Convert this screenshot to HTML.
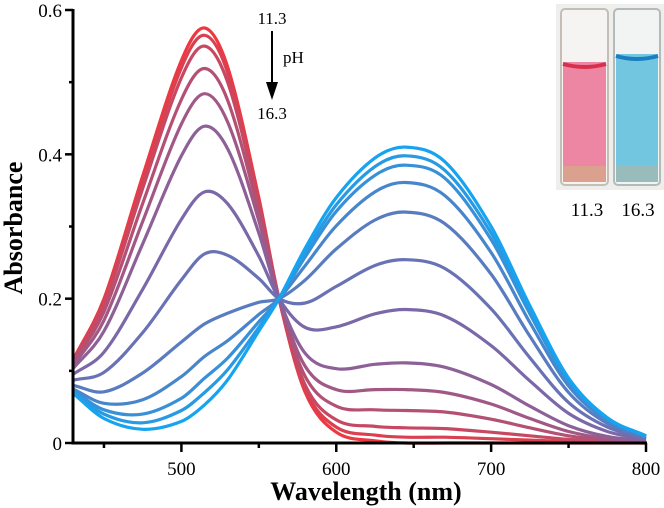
<!DOCTYPE html>
<html><head><meta charset="utf-8"><style>
html,body{margin:0;padding:0;background:#fff}
svg{display:block}
svg text{font-family:"Liberation Serif","Times New Roman",serif;fill:#000}
</style></head><body>
<svg id="chart" width="664" height="508" viewBox="0 0 664 508" font-family="Liberation Serif, serif">
<g id="inset">
 <rect x="556" y="4" width="108" height="186" fill="#eeeeec"/>
 <rect x="561" y="9" width="47" height="176" rx="4" fill="#f6f4f2" stroke="#c4beb6" stroke-width="2"/>
 <rect x="563" y="62" width="43" height="120" fill="#ec86a2"/>
 <path d="M563 64 Q585 70 606 64" stroke="#d8304c" stroke-width="4" fill="none"/>
 <rect x="563" y="166" width="43" height="16" fill="#dca08e"/>
 <rect x="614" y="9" width="46" height="176" rx="4" fill="#f2f3f3" stroke="#b4baba" stroke-width="2"/>
 <rect x="616" y="54" width="42" height="128" fill="#72c6df"/>
 <path d="M616 56 Q637 62 658 56" stroke="#1a7fc0" stroke-width="4" fill="none"/>
 <rect x="616" y="166" width="42" height="16" fill="#98bcbc"/>
 <text x="587" y="216" font-size="19" text-anchor="middle" font-family="Liberation Serif, serif">11.3</text>
 <text x="638" y="216" font-size="19" text-anchor="middle" font-family="Liberation Serif, serif">16.3</text>
</g>
<g id="curves"></g>
<g id="axes"></g>
<g font-family="Liberation Serif, serif">
 <text x="272" y="24" font-size="17" text-anchor="middle">11.3</text>
 <line x1="272" y1="31" x2="272" y2="86" stroke="#000" stroke-width="2"/>
 <polygon points="266,82 278,82 272,100" fill="#000"/>
 <text x="283" y="63" font-size="17">pH</text>
 <text x="272" y="119" font-size="17" text-anchor="middle">16.3</text>
</g>
</svg>
<script>
const wavelengths=[430,450,475,500,515,530,550,563,580,600,625,645,670,700,725,750,775,800];
const phLabels=["11.3","c2","c3","c4","c5","c6","c7","c8","c9","c10","c11","c12","16.3"];
const s1=[.115,.20,.37,.53,.575,.52,.34,.20,.07,.015,.003,0,0,0,0,0,0,0];
const s2=[.114,.197,.363,.520,.565,.512,.336,.20,.074,.022,.011,.008,.008,.006,.004,.002,.001,0];
const s3=[.113,.192,.353,.506,.550,.499,.331,.20,.080,.032,.023,.021,.020,.015,.010,.005,.002,.001];
const s4=[.110,.182,.332,.476,.519,.474,.320,.20,.092,.051,.046,.045,.043,.033,.021,.010,.004,.001];
const s5=[.107,.170,.307,.442,.484,.444,.308,.20,.106,.074,.074,.074,.070,.054,.034,.016,.006,.002];
const s6=[.103,.155,.276,.398,.439,.407,.291,.20,.124,.103,.109,.111,.105,.081,.051,.024,.009,.003];
const s7=[.095,.126,.213,.310,.348,.331,.259,.20,.160,.161,.179,.185,.176,.135,.086,.041,.016,.005];
const s8=[.087,.098,.153,.226,.262,.260,.228,.20,.194,.217,.246,.254,.242,.186,.118,.056,.022,.006];
const s9=[.080,.071,.097,.140,.165,.180,.195,.20,.226,.269,.309,.320,.304,.234,.148,.070,.027,.008];
const s10=[.075,.055,.060,.092,.120,.142,.178,.20,.246,.301,.348,.361,.343,.264,.167,.079,.031,.009];
const s11=[.073,.046,.040,.062,.090,.118,.168,.20,.258,.321,.371,.385,.367,.282,.179,.085,.033,.009];
const s12=[.071,.040,.028,.045,.070,.102,.160,.20,.264,.330,.383,.398,.378,.291,.184,.087,.034,.010];
const s13=[.069,.034,.019,.030,.053,.088,.155,.20,.270,.340,.395,.410,.390,.300,.190,.090,.035,.010];
const series=[s1,s2,s3,s4,s5,s6,s7,s8,s9,s10,s11,s12,s13];
const xTicks=[500,600,700,800];
const xMinor=[450,550,650,750];
const yTicks=[0,0.2,0.4,0.6];
const yTickLabels=["0","0.2","0.4","0.6"];
const yMinor=[0.1,0.3,0.5];

const X0=73,X1=646,Y0=443,Y1=10;
const xs=v=>X0+(v-430)/(800-430)*(X1-X0);
const ys=v=>Y0-(v/0.6)*(Y0-Y1);
const NS="http://www.w3.org/2000/svg";
function mk(tag,attrs,parent){const e=document.createElementNS(NS,tag);for(const k in attrs)e.setAttribute(k,attrs[k]);parent.appendChild(e);return e;}
function lerp(a,b,t){return Math.round(a+(b-a)*t);}
function color(t){
  const c0=[238,56,64],c1=[122,104,168],c2=[22,164,240];
  let a,b,u; if(t<0.5){a=c0;b=c1;u=t/0.5;}else{a=c1;b=c2;u=(t-0.5)/0.5;}
  return `rgb(${lerp(a[0],b[0],u)},${lerp(a[1],b[1],u)},${lerp(a[2],b[2],u)})`;
}
function hermitePath(pts){
  const n=pts.length,m=[];
  for(let i=0;i<n;i++){
    if(i===0)m.push((pts[1][1]-pts[0][1])/(pts[1][0]-pts[0][0]));
    else if(i===n-1)m.push((pts[n-1][1]-pts[n-2][1])/(pts[n-1][0]-pts[n-2][0]));
    else m.push((pts[i+1][1]-pts[i-1][1])/(pts[i+1][0]-pts[i-1][0]));
  }
  let d=`M${pts[0][0].toFixed(1)},${pts[0][1].toFixed(1)}`;
  for(let i=0;i<n-1;i++){
    const dx=(pts[i+1][0]-pts[i][0])/3;
    d+=` C${(pts[i][0]+dx).toFixed(1)},${(pts[i][1]+m[i]*dx).toFixed(1)} ${(pts[i+1][0]-dx).toFixed(1)},${(pts[i+1][1]-m[i+1]*dx).toFixed(1)} ${pts[i+1][0].toFixed(1)},${pts[i+1][1].toFixed(1)}`;
  }
  return d;
}
const cg=document.getElementById('curves');
series.forEach((s,i)=>{
  const pts=wavelengths.map((w,j)=>[xs(w),ys(s[j])]);
  const p=mk('path',{d:hermitePath(pts),fill:'none',stroke:color(i/(series.length-1)),'stroke-width':3.2,'stroke-linejoin':'round'},cg);
  
  
});
const ag=document.getElementById('axes');
const yAxis=mk('line',{x1:X0,y1:Y1-1,x2:X0,y2:Y0+1.5,stroke:'#000','stroke-width':3},ag);


const xAxis=mk('line',{x1:X0-1.5,y1:Y0,x2:X1+1,y2:Y0,stroke:'#000','stroke-width':3},ag);


xTicks.forEach(v=>{
  mk('line',{x1:xs(v),y1:Y0,x2:xs(v),y2:Y0+9,stroke:'#000','stroke-width':2.5},ag);
  const t=mk('text',{x:xs(v),y:Y0+32,'font-size':19,'text-anchor':'middle','font-family':'Liberation Serif, serif'},ag);
  t.textContent=v;
  
  
});
xMinor.forEach(v=>mk('line',{x1:xs(v),y1:Y0,x2:xs(v),y2:Y0+5,stroke:'#000','stroke-width':2.5},ag));
yTicks.forEach((v,i)=>{
  mk('line',{x1:X0-8,y1:ys(v),x2:X0,y2:ys(v),stroke:'#000','stroke-width':2.5},ag);
  const t=mk('text',{x:X0-11,y:ys(v)+7,'font-size':19,'text-anchor':'end','font-family':'Liberation Serif, serif'},ag);
  t.textContent=yTickLabels[i];
  
  
});
yMinor.forEach(v=>mk('line',{x1:X0-4,y1:ys(v),x2:X0,y2:ys(v),stroke:'#000','stroke-width':2.5},ag));
const xt=mk('text',{x:366,y:500,'font-size':26,'font-weight':'bold','text-anchor':'middle','font-family':'Liberation Serif, serif'},ag);
xt.textContent='Wavelength (nm)';


const yt=mk('text',{x:0,y:0,'font-size':26,'font-weight':'bold','text-anchor':'middle','font-family':'Liberation Serif, serif',transform:'translate(22,228) rotate(-90)'},ag);
yt.textContent='Absorbance';


</script>
</body></html>
